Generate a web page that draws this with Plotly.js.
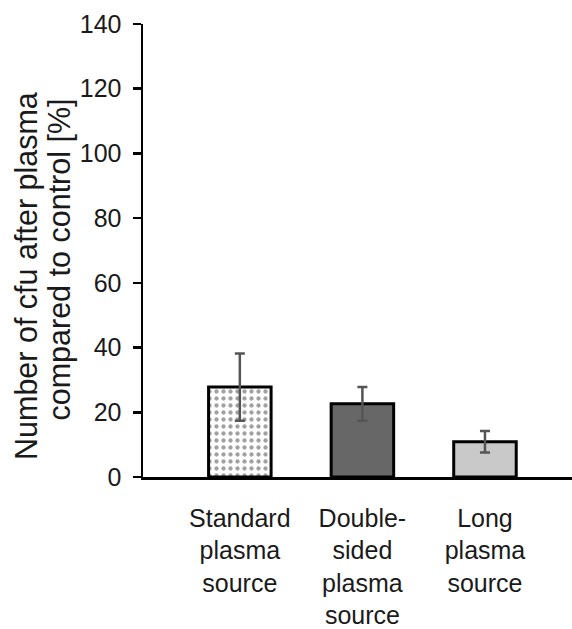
<!DOCTYPE html>
<html>
<head>
<meta charset="utf-8">
<script src="https://cdn.plot.ly/plotly-3.0.1.min.js"></script>
<style>html,body{margin:0;padding:0;background:#fff;}#chart{width:572px;height:629px;}</style>
</head>
<body>
<div id="chart"></div>
<script>
const categories = ["Standard<br>plasma<br>source", "Double-<br>sided<br>plasma<br>source", "Long<br>plasma<br>source"];
const values = [27.8, 22.6, 10.9];
const errors = [10.4, 5.2, 3.3];
const barColors = ["#ffffff", "#676767", "#c9c9c9"];
const yTicks = [0, 20, 40, 60, 80, 100, 120, 140];
const yTitleLines = ["Number of cfu after plasma", "compared to control [%]"];

const fam = "Liberation Sans, Arial, sans-serif";
const col = "#1a1a1a";

const trace = {
  type: "bar",
  x: [0, 1, 2],
  y: values,
  width: 0.51,
  marker: {
    color: barColors,
    line: {color: "#000", width: 3},
    pattern: {shape: [".", "", ""], fgcolor: "#2a2a2a", bgcolor: "#ffffff", size: 7, solidity: 0.3, fillmode: "overlay"}
  },
  error_y: {type: "data", array: errors, visible: true, color: "#555", thickness: 2.5, width: 5}
};

const titlePos = [{x: -0.2727, y: 0.4437}, {x: -0.1935, y: 0.480}];
const annotations = yTitleLines.map((t, i) => ({
  text: t, xref: "paper", yref: "paper", x: titlePos[i].x, y: titlePos[i].y,
  xanchor: "center", yanchor: "middle", textangle: -90, showarrow: false, borderpad: 0,
  font: {family: fam, size: 30.5, color: col}
}));

const layout = {
  width: 572, height: 629,
  margin: {l: 143, r: 0, t: 24, b: 152, pad: 0},
  paper_bgcolor: "#fff", plot_bgcolor: "#fff",
  font: {family: fam, size: 24, color: col},
  showlegend: false,
  annotations: annotations,
  xaxis: {
    range: [-0.79, 2.71],
    tickmode: "array", tickvals: [0, 1, 2], ticktext: categories,
    ticks: "", showline: true, linecolor: "#000", linewidth: 2.5,
    showgrid: false, zeroline: false, tickfont: {family: fam, size: 25, color: col},
    ticklabelstandoff: 17, fixedrange: true
  },
  yaxis: {
    range: [0, 140],
    tickmode: "array", tickvals: yTicks, ticktext: yTicks.map(String),
    ticks: "outside", ticklen: 8, tickwidth: 2.5, tickcolor: "#000",
    showline: true, linecolor: "#000", linewidth: 2.5,
    showgrid: false, zeroline: false, tickfont: {family: fam, size: 25, color: col}, ticklabelstandoff: 6
  }
};

Plotly.newPlot("chart", [trace], layout, {displayModeBar: false, staticPlot: true});
</script>
</body>
</html>
